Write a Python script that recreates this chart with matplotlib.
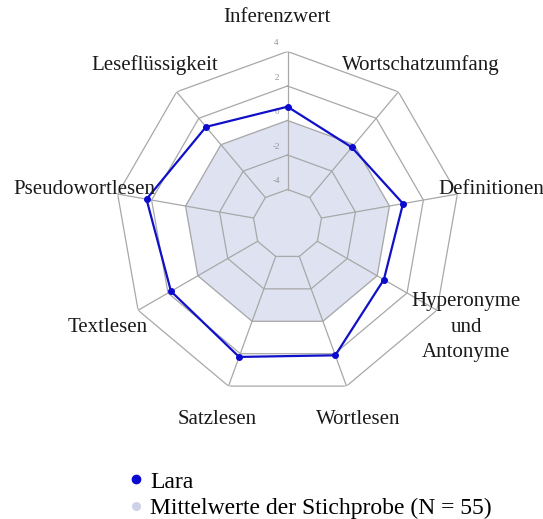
import numpy as np
import matplotlib.pyplot as plt
from matplotlib.lines import Line2D

categories = ["Inferenzwert", "Wortschatzumfang", "Definitionen",
              "Hyperonyme\nund\nAntonyme", "Wortlesen", "Satzlesen",
              "Textlesen", "Pseudowortlesen", "Leseflüssigkeit"]
lara = [0.8, -0.2, 0.8, 0.45, 2.1, 2.2, 1.8, 2.3, 1.35]
stichprobe = [0, 0, 0, 0, 0, 0, 0, 0, 0]
ring_values = [-4, -2, 0, 2, 4]
r_min, r_max = -6, 4

# label centres in figure pixels (from top-left)
label_pos = [(277, 18), (421, 65), (491, 189), (466, 327), (358, 419),
             (217, 419), (108, 327), (84, 190), (155, 65)]

W, H = 543, 519
fig = plt.figure(figsize=(W / 100, H / 100), dpi=100)
ax = fig.add_axes([115 / W, (295 - 172.5) / H, 345 / W, 345 / H], projection="polar")
ax.set_theta_zero_location("N")
ax.set_theta_direction(-1)
ax.set_ylim(r_min, r_max)
ax.grid(False)
ax.spines["polar"].set_visible(False)
ax.set_xticks([])
ax.set_yticks([])
ax.patch.set_alpha(0)

n = len(categories)
theta = np.linspace(0, 2 * np.pi, n, endpoint=False)
theta_c = np.append(theta, theta[0])

# mean polygon
mean_c = np.append(stichprobe, stichprobe[0])
ax.fill(theta_c, mean_c, color="#dfe2f1", zorder=1)

# polygon grid
grid_col = "#a8a8a8"
for rv in ring_values:
    ax.plot(theta_c, [rv] * (n + 1), color=grid_col, lw=0.9, zorder=2)
for t in theta:
    ax.plot([t, t], [ring_values[0], ring_values[-1]], color=grid_col, lw=0.9, zorder=2)

for rv in ring_values:
    ax.annotate(str(rv), xy=(0, rv), xytext=(-8, 3), textcoords="offset points",
                ha="center", va="bottom", fontsize=6.5, color="#909090",
                family="Liberation Serif", zorder=3)

# Lara
lara_c = np.append(lara, lara[0])
ax.plot(theta_c, lara_c, color="#1010c8", lw=1.6, zorder=4)
ax.plot(theta, lara, "o", color="#0a0ad0", ms=4, zorder=5)

for lab, (x, y) in zip(categories, label_pos):
    fig.text(x / W, 1 - y / H, lab, ha="center", va="center", fontsize=15,
             family="Liberation Serif", color="#1a1a1a", linespacing=1.45)

handles = [Line2D([], [], ls="none", marker="o", ms=6, color="#0a0ad0"),
           Line2D([], [], ls="none", marker="o", ms=5.5, color="#cdd2e8")]
fig.legend(handles, ["Lara", "Mittelwerte der Stichprobe (N = 55)"],
           loc="upper left", bbox_to_anchor=(130 / W, 1 - 471 / H),
           frameon=False, handlelength=0.5, handletextpad=0.35,
           labelspacing=0.2, borderaxespad=0, borderpad=0,
           prop={"family": "Liberation Serif", "size": 17})

fig.savefig("out.png", dpi=100)
